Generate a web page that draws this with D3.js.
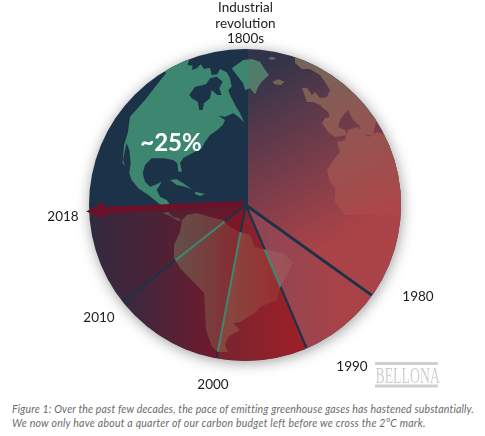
<!DOCTYPE html>
<html><head><meta charset="utf-8">
<script src="https://cdn.jsdelivr.net/npm/d3@7"></script>
<style>html,body{margin:0;padding:0;background:#fff}svg{display:block}text{font-family:Lato,sans-serif}</style>
</head><body><svg id="c" width="485" height="436"></svg>
<script>
// Data
const years = ["1980","1990","2000","2010","2018"];
const budgetUsed = [34.9,43.6,53,64.4,74.2];   // cumulative share of the carbon budget, %
const remainingLabel = "~25%";
const startLabel = ["Industrial","revolution","1800s"];
const caption = ["Figure 1: Over the past few decades, the pace of emitting greenhouse gases has hastened substantially.",
                 "We now only have about a quarter of our carbon budget left before we cross the 2°C mark."];

// Backdrop map outlines (decorative coastlines, page pixels)
const northAmerica = [[160,60],[185,48],[190,57.7],[187.3,65],[192.7,65.7],[191.7,70],[196.7,68.3],[200.7,64.3],[204,69],[210,67.7],[211.7,75],[217.3,74.3],[220,69],[226.7,72.3],[230,78.3],[231.7,86.7],[228.3,90],[230,95],[236,106.7],[240,113],[244,122.3],[238.3,116.7],[233.3,113.3],[225,116.7],[218.3,115.7],[225,120],[222.7,125],[217.3,130],[210,135],[205,141.7],[201.7,148.3],[195,151.7],[183.3,158],[180,163],[182,171.7],[178.3,171.7],[177.3,163.3],[173.3,160],[163.3,158.3],[151.7,158.3],[145,165],[142.7,173.3],[145,181.7],[150,186.7],[155,185],[161.7,181.7],[156.7,190],[160,196.7],[166.7,200],[170,205],[169.3,210],[163.3,207.3],[156.7,201.7],[148.3,195],[138.3,188.3],[131.7,180],[129.3,173.3],[130.7,163.3],[129.3,150],[126.5,143],[123,160],[125,166],[122.5,163],[124,145],[127.7,133.3],[130,116.7],[145,100],[156.7,85],[166,73.3]];
const hudsonBay = [[189.3,95],[195,86.7],[206,84.3],[210,78.3],[216.7,76.7],[222.7,81.7],[219.3,88.3],[221.7,95],[217.3,95],[211.7,90],[210,98.3],[204,103.3],[202.7,110],[199.3,110],[197.7,101.7],[191.7,98.3]];
const cuba = [[170,180],[176.7,179.3],[183.3,183.3],[191.7,189.3],[185,186.7],[176.7,185]];
const hispaniola = [[195,191.7],[205,194],[200,196],[195,194]];
const greenland = [[231.7,68.3],[243.3,60],[251.7,59],[260,61.7],[264,68.3],[269,75],[261.7,81.7],[258.3,86.7],[255,94.3],[250,88.3],[245,90],[243,83],[236.7,75]];
const iceland = [[272.3,81.7],[278.3,79.3],[284.3,81.7],[281,85],[275,84.3]];
const svalbard = [[268.3,57.7],[272.3,56.7],[276.7,59],[271,60]];
const eurasia = [[295,50],[330,50],[420,150],[381,112],[360,95],[370,105],[378,113],[373,135],[362,135],[359,125],[353,120],[348,110],[345,113],[340,120],[338,127],[345,130],[347,135],[335,137],[328,132],[322,123],[325,118],[330,117],[328,112],[323,108],[320,105],[313,102],[307,102],[302,88],[307,88],[312,95],[315,92],[320,98],[327,97],[330,90],[325,82],[320,75],[310,69],[302,69],[295,63]];
const africa = [[337,142],[345,140],[348,130],[358,127],[368,137],[377,132],[420,145],[420,215],[345,215],[335,202],[335,188],[330,182],[327,170],[332,162],[340,152]];
const centralAmericaS = [[163,213],[170,216],[175,219],[181,222],[179,218],[173,217],[168,212]];
const southAmerica = [[187,215],[197,213],[210,217],[223,220],[230,227],[240,232],[250,235],[255,247],[267,250],[283,253],[293,262],[288,273],[280,288],[277,300],[260,307],[255,313],[240,322],[233,323],[240,330],[228,337],[225,345],[228,352],[218,352],[212,347],[206,330],[204,293],[180,268],[174,258],[174,245],[180,232],[182,220]];

const svg = d3.select("#c");
const cx = 245, cy = 205, R = 156;
const apex = [245.8, 205];
const angle = d3.scaleLinear().domain([0,100]).range([0,2*Math.PI]);
const polar = (v,r,o=apex)=>[o[0]+r*Math.sin(angle(v)), o[1]-r*Math.cos(angle(v))];
const outline = d3.line().curve(d3.curveLinear);
const closed = p => outline(p)+"Z";

const defs = svg.append("defs");
const sh = defs.append("filter").attr("id","shadow").attr("x","-20%").attr("y","-20%").attr("width","140%").attr("height","140%");
sh.append("feDropShadow").attr("dx",1).attr("dy",2).attr("stdDeviation",7).attr("flood-color","#000").attr("flood-opacity",.38);
defs.append("filter").attr("id","soft").append("feGaussianBlur").attr("stdDeviation",.35);
defs.append("clipPath").attr("id","disc").append("circle").attr("cx",cx).attr("cy",cy).attr("r",R);

const wedgeFills = [
 {p:[255,70,345,235], s:[[190,68,78,.13],[176,68,72,.96]]},
 {p:[250,0,340,0],    s:[[174,76,89,.77],[172,67,72,.98]]},
 {p:[232,0,300,0],    s:[[183,28,32,.62],[163,31,38,.95]]},
 {p:[125,0,240,0],    s:[[160,12,28,.22],[160,12,28,.75]]},
 {p:[90,0,245,0],     s:[[150,10,25,.18],[150,10,25,.68]]}
];
wedgeFills.forEach((w,i)=>{
  const g = defs.append("linearGradient").attr("id","w"+i).attr("gradientUnits","userSpaceOnUse")
    .attr("gradientTransform",`translate(${-apex[0]},${-apex[1]})`)
    .attr("x1",w.p[0]).attr("y1",w.p[1]).attr("x2",w.p[2]).attr("y2",w.p[3]);
  w.s.forEach((c,j)=>g.append("stop").attr("offset",j).attr("stop-color",`rgb(${c[0]},${c[1]},${c[2]})`).attr("stop-opacity",c[3]));
});

// spokes are gaps cut out of the wedges, showing the map beneath
const spokeW = [3,2.2,2,2];
const mask = defs.append("mask").attr("id","gaps").attr("maskUnits","userSpaceOnUse").attr("x",0).attr("y",0).attr("width",485).attr("height",436);
mask.append("rect").attr("width",485).attr("height",436).attr("fill","#fff");
mask.append("line").attr("x1",apex[0]).attr("y1",apex[1]).attr("x2",apex[0]).attr("y2",cy-R-3).attr("stroke","#000").attr("stroke-width",4.4);
budgetUsed.slice(0,4).forEach((v,i)=>{
  const e = polar(v,R+6);
  mask.append("line").attr("x1",apex[0]).attr("y1",apex[1]).attr("x2",e[0]).attr("y2",e[1]).attr("stroke","#000").attr("stroke-width",spokeW[i]);
});

const disc = svg.append("g");
disc.append("circle").attr("cx",cx).attr("cy",cy).attr("r",R).attr("fill","#1f3348").attr("filter","url(#shadow)");
const map = disc.append("g").attr("clip-path","url(#disc)");
const land = map.append("g").attr("filter","url(#soft)");
[northAmerica,cuba,hispaniola,greenland,centralAmericaS,southAmerica].forEach(p=>
  land.append("path").attr("d",closed(p)).attr("fill","#3d8770"));
[iceland,svalbard,eurasia,africa].forEach(p=>
  land.append("path").attr("d",closed(p)).attr("fill","#626e5c"));
land.append("path").attr("d",closed(hudsonBay)).attr("fill","#1f3348");

const arc = d3.arc().innerRadius(0).outerRadius(R+4);
const spans = d3.pairs([0,...budgetUsed]);
map.append("g").attr("mask","url(#gaps)").selectAll("path").data(spans).join("path")
  .attr("transform",`translate(${apex[0]},${apex[1]})`)
  .attr("d",d=>arc({startAngle:angle(d[0]),endAngle:angle(d[1])}))
  .attr("fill",(d,i)=>`url(#w${i})`);

// 2018 arrow
const aO = [245.5,203.4];
const v18 = budgetUsed[4];
const tip = polar(v18,159.5,aO), ux=(tip[0]-aO[0])/159.5, uy=(tip[1]-aO[1])/159.5, nx=-uy, ny=ux;
const at = (d,w)=>[aO[0]+ux*d+nx*w, aO[1]+uy*d+ny*w];
svg.append("path").attr("d",closed([at(2,2.6),at(141,3.8),at(141,9),tip,at(141,-9),at(141,-3.8),at(2,-2.6)])).attr("fill","#6a1229");

// labels
const labels = svg.append("g").attr("fill","#1c1c1c").attr("font-size",13.5).attr("text-anchor","middle");
startLabel.forEach((t,i)=>labels.append("text").attr("x",245.5).attr("y",12+i*15.6).text(t));
const labelXY = [[418,301],[352,371],[213,389],[99,322],[63,221]];
years.forEach((y,i)=>labels.append("text").attr("x",labelXY[i][0]).attr("y",labelXY[i][1]).text(y));
svg.append("text").attr("x",171).attr("y",151).attr("text-anchor","middle").attr("fill","#fff").attr("font-weight",700).attr("font-size",24).text(remainingLabel);

// logo
const logo = svg.append("g").attr("fill","#d0d0d0");
logo.append("rect").attr("x",375).attr("y",362).attr("width",63).attr("height",3);
logo.append("rect").attr("x",375).attr("y",384.5).attr("width",63).attr("height",3);
logo.append("text").attr("transform","translate(375.5,383) scale(0.6,1)").attr("style","font-family:'Liberation Serif'").attr("font-size",23).text("BELLONA");

// caption
const captionTrack = [.16,.24];
caption.forEach((t,i)=>svg.append("text").attr("x",12).attr("y",413+i*14).attr("fill","#6a6a6a").attr("font-style","italic").attr("font-size",10.5).attr("letter-spacing",captionTrack[i]).text(t));
</script></body></html>
